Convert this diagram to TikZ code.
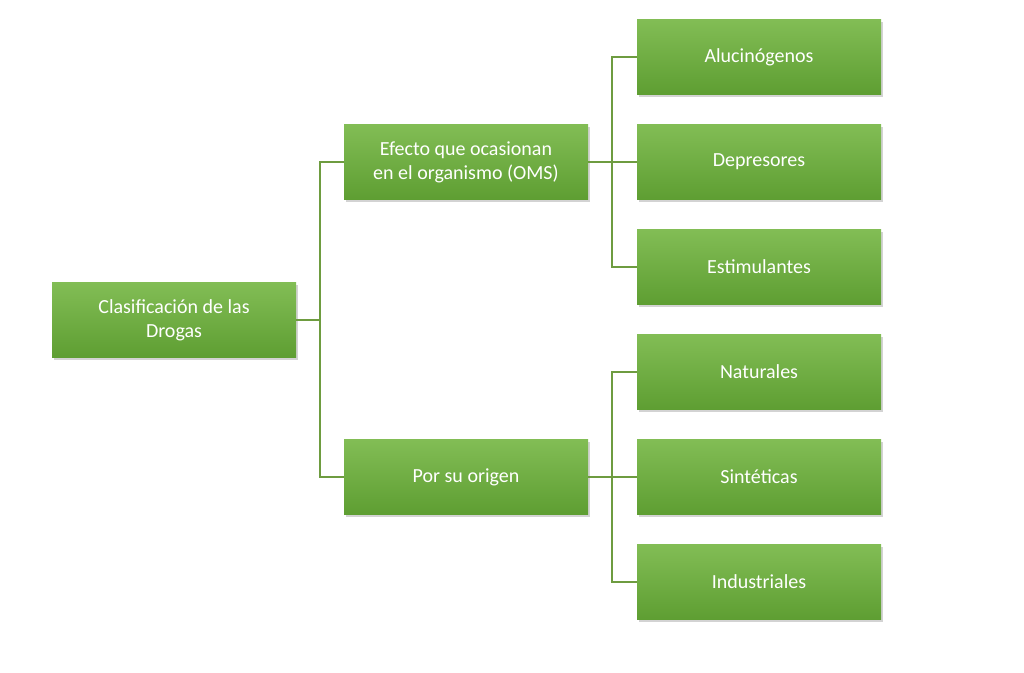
\documentclass[tikz,border=0pt]{standalone}
\usepackage{fontspec}
\setmainfont{Carlito}
\usetikzlibrary{shadows}
\definecolor{gtop}{HTML}{82BD55}
\definecolor{gbot}{HTML}{5E9E32}
\definecolor{lnc}{HTML}{6E9C40}
\tikzset{
 box/.style={rectangle, minimum width=244pt, minimum height=75pt, top color=gtop, bottom color=gbot, draw=none, text=white, font=\fontsize{20}{24}\selectfont, align=center, inner sep=0pt, drop shadow={shadow xshift=1.5pt, shadow yshift=-2pt, opacity=0.35}},
 conn/.style={draw=lnc, line width=1.3pt}
}
\begin{document}
\begin{tikzpicture}[x=1pt,y=-1pt]
\useasboundingbox (0,0) rectangle (1024,672);
\node[box] (root) at (174,320) {Clasificación de las\\Drogas};
\node[box] (m1) at (466,162) {Efecto que ocasionan\\en el organismo (OMS)};
\node[box] (m2) at (466,477) {Por su origen};
\node[box] (l1) at (759,57) {Alucinógenos};
\node[box] (l2) at (759,162) {Depresores};
\node[box] (l3) at (759,267) {Estimulantes};
\node[box] (l4) at (759,372) {Naturales};
\node[box] (l5) at (759,477) {Sintéticas};
\node[box] (l6) at (759,582) {Industriales};
\coordinate (j0) at (320,320);
\coordinate (j1) at (612,162);
\coordinate (j2) at (612,477);
\draw[conn] (root.east) -- (j0);
\draw[conn] (j0) |- (m1.west);
\draw[conn] (j0) |- (m2.west);
\draw[conn] (m1.east) -- (l2.west);
\draw[conn] (j1) |- (l1.west);
\draw[conn] (j1) |- (l3.west);
\draw[conn] (m2.east) -- (l5.west);
\draw[conn] (j2) |- (l4.west);
\draw[conn] (j2) |- (l6.west);
\end{tikzpicture}
\end{document}
